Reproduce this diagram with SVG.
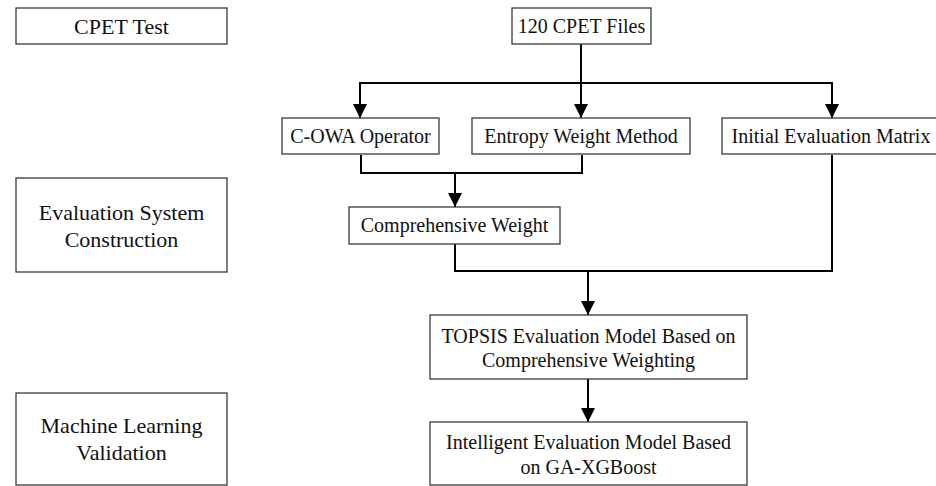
<svg xmlns="http://www.w3.org/2000/svg" width="936" height="486" viewBox="0 0 936 486">
<style>
.box{fill:#fff;stroke:#3a3a3a;stroke-width:1.3}
.t{font-family:"Liberation Serif","Times New Roman",serif;font-size:20px;fill:#111;text-anchor:middle}
.tl{font-family:"Liberation Serif","Times New Roman",serif;font-size:22px;fill:#111;text-anchor:middle}
.c{fill:none;stroke:#000;stroke-width:2}
</style>
<defs>
<marker id="ah" markerWidth="14" markerHeight="16" refX="14" refY="7" orient="auto" markerUnits="userSpaceOnUse">
<path d="M0,0 L14,7 L0,14 Z" fill="#000"/>
</marker>
</defs>
<rect width="936" height="486" fill="#fff"/>
<g id="connectors">
<line class="c" x1="581" y1="44" x2="581" y2="83"/>
<polyline class="c" points="360,117 360,83 832,83 832,117" style="marker-end:none"/>
<path class="c" d="M360,83 V118" marker-end="url(#ah)"/>
<path class="c" d="M581,83 V118" marker-end="url(#ah)"/>
<path class="c" d="M832,83 V118" marker-end="url(#ah)"/>
<polyline class="c" points="361,155 361,173 582,173 582,155"/>
<path class="c" d="M455,173 V207" marker-end="url(#ah)"/>
<polyline class="c" points="455,244 455,271 832,271 832,155"/>
<path class="c" d="M588,271 V315" marker-end="url(#ah)"/>
<path class="c" d="M588,379 V422" marker-end="url(#ah)"/>
</g>
<g id="cpet-test"><rect class="box" x="16" y="8" width="211" height="36"/><text class="tl" x="121.5" y="33.5">CPET Test</text></g>
<g id="cpet-files"><rect class="box" x="512" y="8" width="139" height="36"/><text class="t" x="581.5" y="33">120 CPET Files</text></g>
<g id="cowa"><rect class="box" x="282" y="118" width="157" height="36"/><text class="t" x="360.5" y="143">C-OWA Operator</text></g>
<g id="entropy"><rect class="box" x="472" y="118" width="218" height="36"/><text class="t" x="581" y="143">Entropy Weight Method</text></g>
<g id="initial"><rect class="box" x="722" y="118" width="216" height="36"/><text class="t" x="831" y="143">Initial Evaluation Matrix</text></g>
<g id="eval-system"><rect class="box" x="16" y="178" width="211" height="94"/><text class="tl" x="121.5" y="220">Evaluation System</text><text class="tl" x="121.5" y="247">Construction</text></g>
<g id="comp-weight"><rect class="box" x="349" y="207" width="211" height="37"/><text class="t" x="454.5" y="232">Comprehensive Weight</text></g>
<g id="topsis"><rect class="box" x="430" y="315" width="317" height="64"/><text class="t" x="588.5" y="343">TOPSIS Evaluation Model Based on</text><text class="t" x="588.5" y="367">Comprehensive Weighting</text></g>
<g id="ml-validation"><rect class="box" x="16" y="393" width="211" height="92"/><text class="tl" x="121.5" y="433">Machine Learning</text><text class="tl" x="121.5" y="460">Validation</text></g>
<g id="intelligent"><rect class="box" x="430" y="422" width="317" height="63"/><text class="t" x="588.5" y="449">Intelligent Evaluation Model Based</text><text class="t" x="588.5" y="474">on GA-XGBoost</text></g>
</svg>
